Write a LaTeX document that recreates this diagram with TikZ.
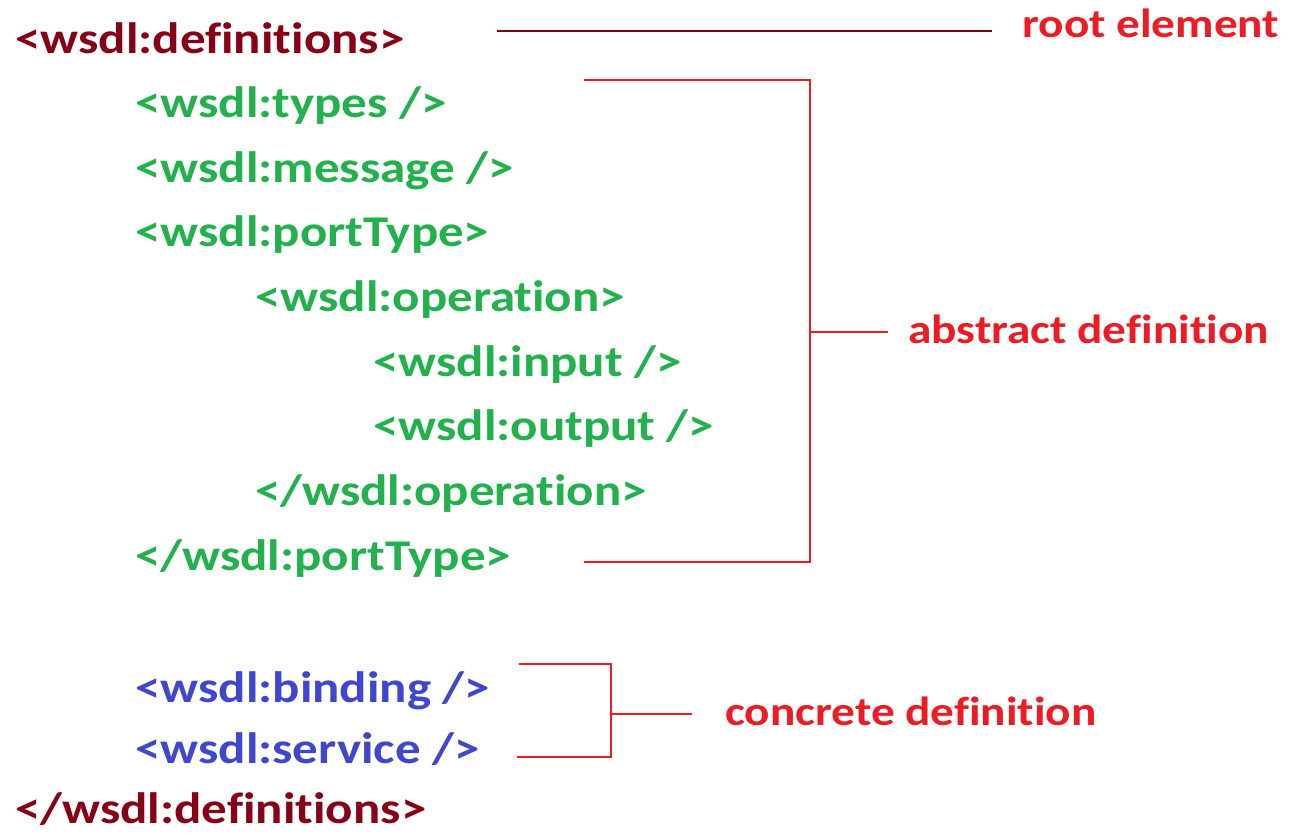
\documentclass[tikz,border=0pt]{standalone}
\usepackage{fontspec}
\setmainfont{Carlito}
\newfontfamily\codefont[FakeStretch=1.16,Ligatures=NoCommon]{Carlito}
\usetikzlibrary{positioning,calc}
\definecolor{rootred}{HTML}{880015}
\definecolor{absgreen}{HTML}{22B14C}
\definecolor{concblue}{HTML}{3F48CC}
\definecolor{notered}{HTML}{ED1C24}

\begin{document}
\begin{tikzpicture}[
    x=0.02cm, y=-0.02cm,
    every node/.style={inner sep=0pt, anchor=base west},
    roottag/.style={text=rootred, font=\codefont\fontsize{25}{25}\selectfont\bfseries},
    abstag/.style={text=absgreen, font=\codefont\fontsize{25}{25}\selectfont\bfseries},
    conctag/.style={text=concblue, font=\codefont\fontsize{25}{25}\selectfont\bfseries},
    note/.style={text=notered, font=\codefont\fontsize{23.2}{23.2}\selectfont\bfseries},
    rootline/.style={draw=rootred, line width=1.3pt},
    bracket/.style={draw=notered, line width=1.1pt},
]
\useasboundingbox (0,0) rectangle (1291,835);

% === root element ===
\node[roottag] (defs) at (15,53) {<wsdl:definitions>};
\node[note] (root) at (1022,37) {root element};

% === abstract part ===
\node[abstag] (types) at (135,117.6) {<wsdl:types />};
\node[abstag] (message) at (135,182.2) {<wsdl:message />};
\node[abstag] (porttype) at (135,246.9) {<wsdl:portType>};
\node[abstag] (operation) at (255,311.5) {<wsdl:operation>};
\node[abstag] (input) at (373,376) {<wsdl:input />};
\node[abstag] (output) at (373,440.7) {<wsdl:output />};
\node[abstag] (endop) at (255,505.3) {</wsdl:operation>};
\node[abstag] (endpt) at (135,570) {</wsdl:portType>};
\node[note] (abstract) at (908,343) {abstract definition};

% === concrete part ===
\node[conctag] (binding) at (135,702) {<wsdl:binding />};
\node[conctag] (service) at (135,763) {<wsdl:service />};
\node[note] (concrete) at (725,725) {concrete definition};

\node[roottag] (enddefs) at (15,823) {</wsdl:definitions>};

% === bracket ends ===
\coordinate (rootstart) at (497,31);
\coordinate (abtop) at (584,80);
\coordinate (abbot) at (584,562);
\coordinate (abmid) at (810,332);
\coordinate (cotop) at (519,664);
\coordinate (cobot) at (517,757);
\coordinate (comid) at (611,714);

% === connectors ===
\draw[rootline] (rootstart) -- ([xshift=-0.6cm]rootstart -| root.west);

\draw[bracket] (abtop) -| (abmid) |- (abbot);
\draw[bracket] (abmid) -- ([xshift=-0.4cm]abmid -| abstract.west);

\draw[bracket] (cotop) -| (comid) |- (cobot);
\draw[bracket] (comid) -- ([xshift=-0.66cm]comid -| concrete.west);

\end{tikzpicture}
\end{document}
